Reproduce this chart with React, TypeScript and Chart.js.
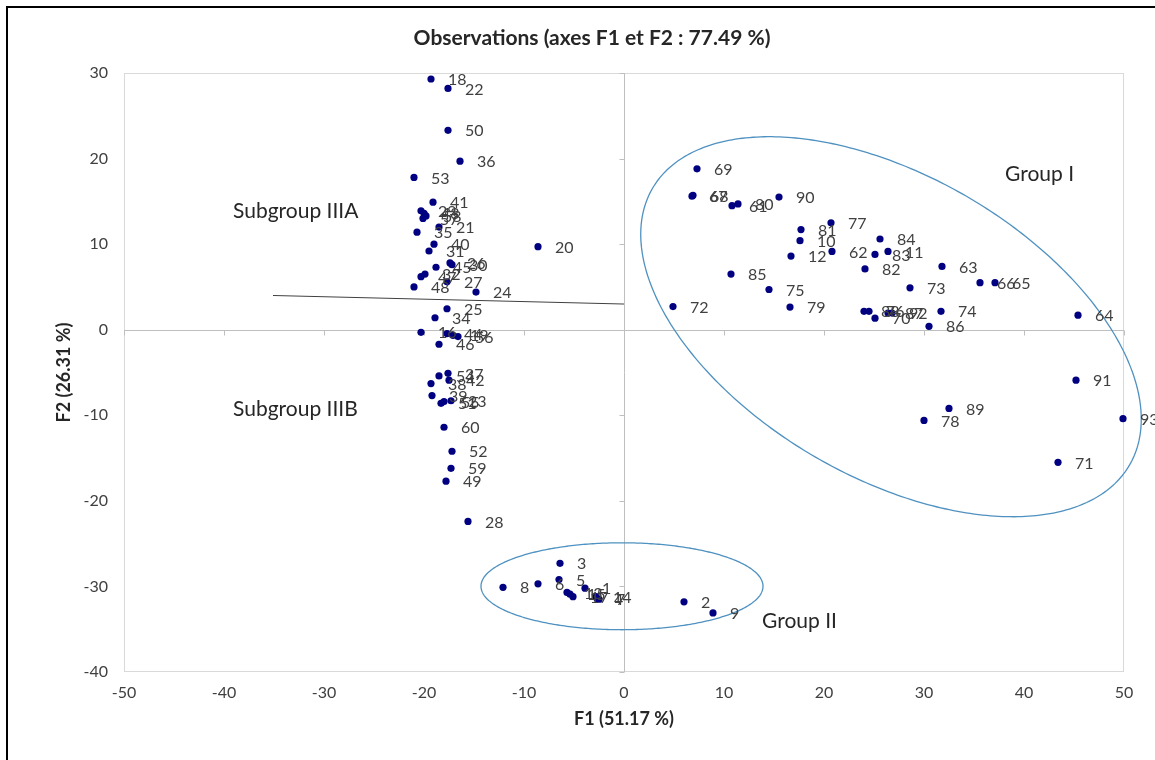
import React, { useEffect, useRef } from "react";
import { Chart, registerables } from "chart.js";

Chart.register(...registerables);

// ---------- data ----------
const obsLabels = [
  "18", "22", "50", "36", "53", "41", "29", "43", "58", "57", "21", "35", "40", "31",
  "26", "30", "45", "32", "47", "27", "48", "24", "20", "25", "34", "16", "44", "19",
  "56", "46", "54", "37", "42", "38", "39", "51", "55", "23", "60", "52", "59", "49", "28",
  "3", "8", "6", "5", "13", "15", "17", "1", "14", "4", "7", "2", "9",
  "69", "67", "68", "61", "80", "90", "77", "81", "10", "12", "62", "83", "11", "84",
  "82", "85", "75", "72", "79", "63", "66", "65", "73", "74", "86", "88", "76", "70",
  "87", "92", "64", "91", "89", "78", "93", "71",
];
const f1Values = [
  -19.3, -17.6, -17.6, -16.4, -21.0, -19.1, -20.3, -20.0, -19.8, -20.1, -18.5, -20.7, -19.0, -19.5,
  -17.4, -17.2, -18.8, -19.9, -20.3, -17.7, -21.0, -14.8, -8.6, -17.7, -18.9, -20.3, -17.7, -17.1,
  -16.6, -18.5, -18.5, -17.6, -17.5, -19.3, -19.2, -18.3, -18.0, -17.3, -18.0, -17.2, -17.3, -17.8, -15.6,
  -6.4, -12.1, -8.6, -6.5, -5.7, -5.4, -5.1, -3.9, -2.8, -2.7, -2.5, 6.0, 8.9,
  7.3, 6.8, 6.9, 10.8, 11.4, 15.5, 20.7, 17.7, 17.6, 16.7, 20.8, 25.1, 26.4, 25.6,
  24.1, 10.7, 14.5, 4.9, 16.6, 31.8, 35.6, 37.1, 28.6, 31.7, 30.5, 24.0, 24.5, 25.1,
  26.4, 26.8, 45.4, 45.2, 32.5, 30.0, 49.9, 43.4,
];
const f2Values = [
  29.3, 28.2, 23.3, 19.7, 17.8, 14.9, 13.9, 13.6, 13.3, 13.0, 12.0, 11.4, 10.0, 9.2,
  7.8, 7.6, 7.3, 6.5, 6.2, 5.6, 5.0, 4.4, 9.7, 2.45, 1.4, -0.3, -0.45, -0.65,
  -0.8, -1.7, -5.4, -5.1, -5.9, -6.3, -7.7, -8.6, -8.4, -8.3, -11.4, -14.2, -16.2, -17.7, -22.4,
  -27.3, -30.1, -29.7, -29.2, -30.7, -30.9, -31.2, -30.2, -31.2, -31.4, -31.5, -31.8, -33.1,
  18.8, 15.6, 15.7, 14.5, 14.7, 15.5, 12.5, 11.7, 10.4, 8.6, 9.15, 8.8, 9.15, 10.6,
  7.1, 6.5, 4.7, 2.7, 2.65, 7.4, 5.5, 5.5, 4.9, 2.15, 0.4, 2.15, 2.15, 1.35,
  1.95, 1.95, 1.7, -5.9, -9.2, -10.6, -10.4, -15.5,
];

const xTickValues = [-50, -40, -30, -20, -10, 0, 10, 20, 30, 40, 50];
const yTickValues = [-40, -30, -20, -10, 0, 10, 20, 30];

const chartTitle = "Observations (axes F1 et F2 : 77.49 %)";
const xAxisTitle = "F1 (51.17 %)";
const yAxisTitle = "F2 (26.31 %)";

// annotations (data coordinates)
const groupTexts = [
  { text: "Subgroup IIIA", x: -39.1, y: 13.8 },
  { text: "Subgroup IIIB", x: -39.1, y: -9.35 },
  { text: "Group I", x: 38.1, y: 18.2 },
  { text: "Group II", x: 13.8, y: -34.1 },
];
// ellipse: center + two conjugate half-diameters in data units
const ellipses = [
  { cx: 26.7, cy: 0.35, ux: 23.86, uy: -16.15, vx: -7.55, vy: -15.24 },
  { cx: -0.2, cy: -29.98, ux: 14.1, uy: 0, vx: 0, vy: 5.08 },
];
const separator = { x1: -35.1, y1: 4.0, x2: 0, y2: 3.0 };

const FONT = "Lato, 'Open Sans', sans-serif";

const overlayPlugin = {
  id: "overlay",
  beforeDatasetsDraw(chart: any) {
    const { ctx, chartArea: ca, scales } = chart;
    const xs = scales.x;
    const ys = scales.y;
    ctx.save();
    // plot box
    ctx.strokeStyle = "#d9d9d9";
    ctx.lineWidth = 1;
    ctx.strokeRect(ca.left + 0.5, ca.top + 0.5, ca.right - ca.left - 1, ca.bottom - ca.top - 1);
    // zero axes
    const x0 = Math.round(xs.getPixelForValue(0)) + 0.5;
    const y0 = Math.round(ys.getPixelForValue(0)) + 0.5;
    ctx.strokeStyle = "#bfbfbf";
    ctx.beginPath();
    ctx.moveTo(x0, ca.top);
    ctx.lineTo(x0, ca.bottom);
    ctx.moveTo(ca.left, y0);
    ctx.lineTo(ca.right, y0);
    for (const v of xTickValues) {
      const px = Math.round(xs.getPixelForValue(v)) + 0.5;
      ctx.moveTo(px, y0);
      ctx.lineTo(px, y0 + 5);
    }
    for (const v of yTickValues) {
      const py = Math.round(ys.getPixelForValue(v)) + 0.5;
      ctx.moveTo(x0 - 5, py);
      ctx.lineTo(x0, py);
    }
    ctx.stroke();
    // separator line
    ctx.strokeStyle = "#404040";
    ctx.lineWidth = 1;
    ctx.beginPath();
    ctx.moveTo(xs.getPixelForValue(separator.x1), ys.getPixelForValue(separator.y1));
    ctx.lineTo(xs.getPixelForValue(separator.x2), ys.getPixelForValue(separator.y2));
    ctx.stroke();
    // ellipses
    ctx.strokeStyle = "#4f91c0";
    ctx.lineWidth = 1.3;
    for (const e of ellipses) {
      ctx.beginPath();
      for (let i = 0; i <= 360; i++) {
        const t = (i / 360) * Math.PI * 2;
        const dx = e.cx + e.ux * Math.cos(t) + e.vx * Math.sin(t);
        const dy = e.cy + e.uy * Math.cos(t) + e.vy * Math.sin(t);
        const px = xs.getPixelForValue(dx);
        const py = ys.getPixelForValue(dy);
        if (i === 0) ctx.moveTo(px, py);
        else ctx.lineTo(px, py);
      }
      ctx.closePath();
      ctx.stroke();
    }
    ctx.restore();
  },
  afterDatasetsDraw(chart: any) {
    const { ctx } = chart;
    const meta = chart.getDatasetMeta(0);
    ctx.save();
    ctx.font = `16px ${FONT}`;
    ctx.fillStyle = "#404040";
    ctx.textAlign = "left";
    ctx.textBaseline = "middle";
    meta.data.forEach((el: any, i: number) => {
      ctx.fillText(obsLabels[i], el.x + 17, el.y + 1);
    });
    ctx.restore();
  },
  afterDraw(chart: any) {
    const { ctx, chartArea: ca, scales } = chart;
    const xs = scales.x;
    const ys = scales.y;
    ctx.save();
    ctx.fillStyle = "#262626";
    ctx.textBaseline = "middle";
    // title
    ctx.textAlign = "center";
    ctx.font = `bold 21px ${FONT}`;
    ctx.fillText(chartTitle, 592, 38);
    // axis titles
    ctx.font = `bold 18px ${FONT}`;
    ctx.fillText(xAxisTitle, (ca.left + ca.right) / 2, 719);
    ctx.save();
    ctx.translate(64, (ca.top + ca.bottom) / 2);
    ctx.rotate(-Math.PI / 2);
    ctx.fillText(yAxisTitle, 0, 0);
    ctx.restore();
    // group texts
    ctx.textAlign = "left";
    ctx.font = `21px ${FONT}`;
    ctx.fillStyle = "#262626";
    for (const g of groupTexts) {
      ctx.fillText(g.text, xs.getPixelForValue(g.x), ys.getPixelForValue(g.y));
    }
    ctx.restore();
  },
};

export default function App() {
  const canvasRef = useRef<HTMLCanvasElement | null>(null);

  useEffect(() => {
    const canvas = canvasRef.current;
    if (!canvas) return;
    const points = f1Values.map((v, i) => ({ x: v, y: f2Values[i] }));
    const tickFont = { family: FONT, size: 16 };
    const chart = new Chart(canvas, {
      type: "scatter",
      data: {
        datasets: [
          {
            data: points,
            backgroundColor: "#000080",
            borderColor: "#000080",
            pointRadius: 3.6,
            pointHoverRadius: 3.6,
            borderWidth: 0,
            clip: false as any,
          },
        ],
      },
      options: {
        responsive: false,
        animation: false,
        devicePixelRatio: 1,
        layout: { padding: { top: 73, right: 31, left: 0, bottom: 0 } },
        events: [],
        plugins: {
          legend: { display: false },
          tooltip: { enabled: false },
          title: { display: false },
        },
        scales: {
          x: {
            type: "linear",
            min: -50,
            max: 50,
            afterBuildTicks: (s: any) => {
              s.ticks = xTickValues.map((v) => ({ value: v }));
            },
            afterFit: (s: any) => {
              s.height = 88;
            },
            grid: { display: false, drawTicks: false },
            border: { display: false },
            ticks: {
              padding: 11,
              font: tickFont,
              color: "#404040",
              maxRotation: 0,
              autoSkip: false,
            },
          },
          y: {
            type: "linear",
            min: -40,
            max: 30,
            afterBuildTicks: (s: any) => {
              s.ticks = yTickValues.map((v) => ({ value: v }));
            },
            afterFit: (s: any) => {
              s.width = 124;
            },
            grid: { display: false, drawTicks: false },
            border: { display: false },
            ticks: {
              padding: 16,
              font: tickFont,
              color: "#404040",
              autoSkip: false,
            },
          },
        },
      } as any,
      plugins: [overlayPlugin],
    });
    return () => chart.destroy();
  }, []);

  return (
    <div
      style={{
        position: "fixed",
        left: 0,
        top: 0,
        width: 1155,
        height: 760,
        overflow: "hidden",
        background: "#ffffff",
      }}
    >
      <canvas
        ref={canvasRef}
        width={1155}
        height={760}
        style={{ position: "absolute", left: 0, top: 0, width: 1155, height: 760 }}
      />
      <div
        style={{
          position: "absolute",
          left: 6,
          top: 6,
          width: 1200,
          height: 800,
          border: "2px solid #000",
          pointerEvents: "none",
        }}
      />
    </div>
  );
}
